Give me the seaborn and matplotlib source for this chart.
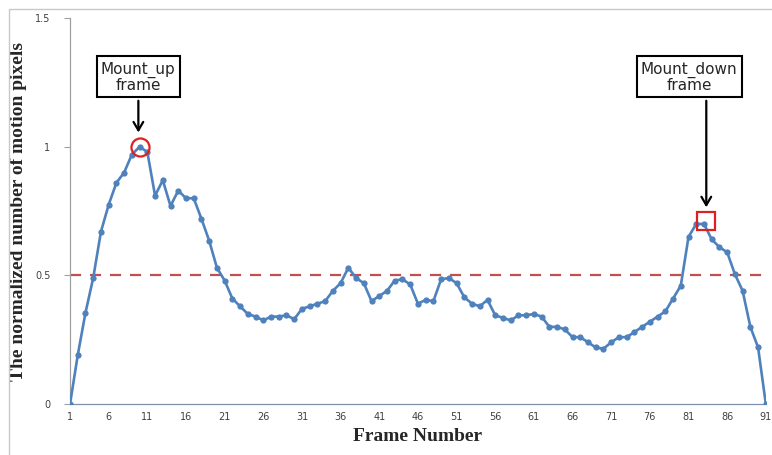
import matplotlib
matplotlib.use("Agg")
import matplotlib.pyplot as plt
import seaborn as sns
import pandas as pd
from matplotlib.patches import Rectangle

frames = list(range(1, 92))
values = [
    0.00, 0.19, 0.355, 0.49, 0.67, 0.775, 0.86, 0.90, 0.97, 1.00,
    0.98, 0.81, 0.87, 0.77, 0.83, 0.80, 0.80, 0.72, 0.635, 0.53,
    0.48, 0.41, 0.38, 0.35, 0.34, 0.325, 0.34, 0.34, 0.345, 0.33,
    0.37, 0.38, 0.39, 0.40, 0.44, 0.47, 0.53, 0.49, 0.47, 0.40,
    0.42, 0.44, 0.48, 0.485, 0.465, 0.39, 0.405, 0.40, 0.485, 0.49,
    0.47, 0.415, 0.39, 0.38, 0.405, 0.345, 0.335, 0.325, 0.345, 0.345,
    0.35, 0.34, 0.30, 0.30, 0.29, 0.26, 0.26, 0.24, 0.22, 0.215,
    0.24, 0.26, 0.26, 0.28, 0.30, 0.32, 0.34, 0.36, 0.41, 0.46,
    0.65, 0.70, 0.70, 0.64, 0.61, 0.59, 0.505, 0.44, 0.30, 0.22,
    0.00,
]
threshold = 0.5
xtick_values = list(range(1, 92, 5))
ytick_values = [0, 0.5, 1, 1.5]
ytick_labels = ["0", "0.5", "1", "1.5"]
up_frame, up_value = 10, 1.00
down_frame, down_value = 83.2, 0.71

df = pd.DataFrame({"Frame": frames, "Value": values})

sns.set_style("white")
fig = plt.figure(figsize=(7.72, 4.55), dpi=100)
ax = fig.add_axes([0.0907, 0.112, 0.9013, 0.848])

# outer light border
fig.patches.append(Rectangle((9 / 772, -0.1), 1.2, 1 - 9 / 455 + 0.1,
                             transform=fig.transFigure, fill=False,
                             edgecolor="#c8c8c8", linewidth=1.0))

ax.axhline(threshold, color="#C0504D", linestyle=(0, (5, 4)), linewidth=1.6, zorder=1)

sns.lineplot(data=df, x="Frame", y="Value", ax=ax, color="#4F81BD",
             linewidth=1.9, marker="o", markersize=4.5, markeredgewidth=0,
             zorder=3)

ax.set_xlim(1, 91)
ax.set_ylim(0, 1.5)
ax.set_xticks(xtick_values)
ax.set_xticklabels([str(v) for v in xtick_values])
ax.set_yticks(ytick_values)
ax.set_yticklabels(ytick_labels)
ax.tick_params(axis="x", length=0, labelsize=7, colors="#404040", pad=6)
ax.tick_params(axis="y", length=4, width=0.8, direction="out", left=True,
               labelsize=7, colors="#404040", pad=10)
ax.tick_params(axis="y", color="#a0a0a0")

for s in ["top", "right"]:
    ax.spines[s].set_visible(False)
ax.spines["left"].set_color("#a0a0a0")
ax.spines["bottom"].set_color("#8090a8")
ax.spines["left"].set_linewidth(0.9)
ax.spines["bottom"].set_linewidth(0.9)

ax.set_xlabel("Frame Number", family="Liberation Serif", fontweight="bold",
              fontsize=14, labelpad=4)
ax.set_ylabel("The normalized number of motion pixels", family="Liberation Serif",
              fontweight="bold", fontsize=14, labelpad=6)

# highlight markers
ax.plot([up_frame], [up_value], marker="o", markersize=13, markerfacecolor="none",
        markeredgecolor="#E02020", markeredgewidth=1.6, zorder=5)
ax.plot([down_frame], [down_value], marker="s", markersize=12.5, markerfacecolor="none",
        markeredgecolor="#E02020", markeredgewidth=1.6, zorder=5)

box_kw = dict(boxstyle="square,pad=0.28", facecolor="white", edgecolor="black", linewidth=1.5)
ax.text(9.84, 1.27, "Mount_up\nframe", ha="center", va="center", fontsize=11,
        family="DejaVu Sans", linespacing=1.0, bbox=box_kw, zorder=6)
ax.text(81.1, 1.27, "Mount_down\nframe", ha="center", va="center", fontsize=11,
        family="DejaVu Sans", linespacing=1.0, bbox=box_kw, zorder=6)

arrow_kw = dict(arrowstyle="->,head_length=0.6,head_width=0.35", color="black", linewidth=1.6)
ax.annotate("", xy=(9.84, 1.045), xytext=(9.84, 1.19), arrowprops=arrow_kw, zorder=6)
ax.annotate("", xy=(83.3, 0.754), xytext=(83.3, 1.19), arrowprops=arrow_kw, zorder=6)

fig.savefig("out.png", dpi=100)
